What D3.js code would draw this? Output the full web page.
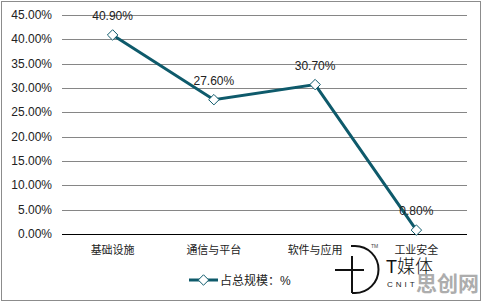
<!DOCTYPE html>
<html>
<head>
<meta charset="utf-8">
<script src="https://cdn.jsdelivr.net/npm/d3@7"></script>
<style>
body{margin:0;background:#fff;}
text{font-family:"Liberation Sans",Arial,"Noto Sans CJK SC",sans-serif;}
</style>
</head>
<body>
<script>
const categories = ["基础设施", "通信与平台", "软件与应用", "工业安全"];
const values = [40.90, 27.60, 30.70, 0.80];
const yTicks = [0, 5, 10, 15, 20, 25, 30, 35, 40, 45];
const seriesName = "占总规模：%";

const w = 483, h = 302;
const lineColor = "#0e5a6b";

const svg = d3.select("body").append("svg")
  .attr("width", w).attr("height", h);

svg.append("rect")
  .attr("x", 1.5).attr("y", 1.5)
  .attr("width", w - 4).attr("height", h - 3)
  .attr("fill", "#fff").attr("stroke", "#8c8c8c");

const x = d3.scaleBand().domain(categories).range([62, 467]);
const y = d3.scaleLinear().domain([0, 45]).range([234, 15]);

// gridlines
svg.append("g").selectAll("line")
  .data(yTicks)
  .enter().append("line")
  .attr("x1", 62).attr("x2", 467)
  .attr("y1", d => Math.round(y(d)) + 0.5).attr("y2", d => Math.round(y(d)) + 0.5)
  .attr("stroke", d => d === 0 ? "#000" : "#868686")
  .attr("stroke-width", 1);

// y tick labels
svg.append("g").selectAll("text")
  .data(yTicks)
  .enter().append("text")
  .attr("x", 52).attr("y", d => y(d) + 4)
  .attr("text-anchor", "end")
  .attr("font-size", 12)
  .attr("fill", "#222")
  .text(d => d.toFixed(2) + "%");

// category labels
svg.append("g").selectAll("text")
  .data(categories)
  .enter().append("text")
  .attr("x", d => x(d) + x.bandwidth() / 2)
  .attr("y", 254)
  .attr("text-anchor", "middle")
  .attr("font-size", 11)
  .attr("fill", "#222")
  .text(d => d);

const cx = (d, i) => x(categories[i]) + x.bandwidth() / 2;

const line = d3.line()
  .x((d, i) => cx(d, i))
  .y(d => y(d));

svg.append("path")
  .datum(values)
  .attr("d", line)
  .attr("fill", "none")
  .attr("stroke", lineColor)
  .attr("stroke-width", 3);

const diamond = d3.symbol().type(d3.symbolDiamond2).size(70);

svg.append("g").selectAll("path")
  .data(values)
  .enter().append("path")
  .attr("d", diamond)
  .attr("transform", (d, i) => `translate(${cx(d, i)},${y(d)})`)
  .attr("fill", "#fff")
  .attr("stroke", lineColor)
  .attr("stroke-width", 1);

// data labels
svg.append("g").selectAll("text")
  .data(values)
  .enter().append("text")
  .attr("x", (d, i) => cx(d, i))
  .attr("y", d => y(d) - 15)
  .attr("text-anchor", "middle")
  .attr("font-size", 12)
  .attr("fill", "#222")
  .text(d => d.toFixed(2) + "%");

// legend
const lg = svg.append("g").attr("transform", "translate(189,280)");
lg.append("line").attr("x1", 0).attr("x2", 29).attr("y1", 0).attr("y2", 0)
  .attr("stroke", lineColor).attr("stroke-width", 3);
lg.append("path").attr("d", diamond)
  .attr("transform", "translate(14.5,0)")
  .attr("fill", "#fff").attr("stroke", lineColor);
lg.append("text").attr("x", 31).attr("y", 4.5)
  .attr("font-size", 12).attr("fill", "#222")
  .text(seriesName);

// watermark
const wm = svg.append("g");
wm.append("path")
  .attr("d", "M351,246 H355 A23.5,23.5 0 0 1 355,293 H352")
  .attr("fill", "none").attr("stroke", "#111").attr("stroke-width", 2);
wm.append("line").attr("x1", 352).attr("x2", 352).attr("y1", 256).attr("y2", 293)
  .attr("stroke", "#111").attr("stroke-width", 2);
wm.append("line").attr("x1", 335).attr("x2", 364).attr("y1", 270).attr("y2", 270)
  .attr("stroke", "#111").attr("stroke-width", 2);
wm.append("text").attr("x", 371).attr("y", 248).attr("font-size", 5).attr("fill", "#444").text("TM");
wm.append("text").attr("x", 386).attr("y", 273).attr("font-size", 18).attr("font-weight", 300).attr("fill", "#111").text("T媒体");
wm.append("text").attr("x", 387).attr("y", 287).attr("font-size", 8).attr("letter-spacing", 3).attr("fill", "#222").text("CNIT");
wm.append("text").attr("x", 416).attr("y", 291).attr("font-size", 21).attr("font-weight", "bold")
  .attr("fill", "#999").attr("opacity", 0.8).text("思创网");
</script>
</body>
</html>
